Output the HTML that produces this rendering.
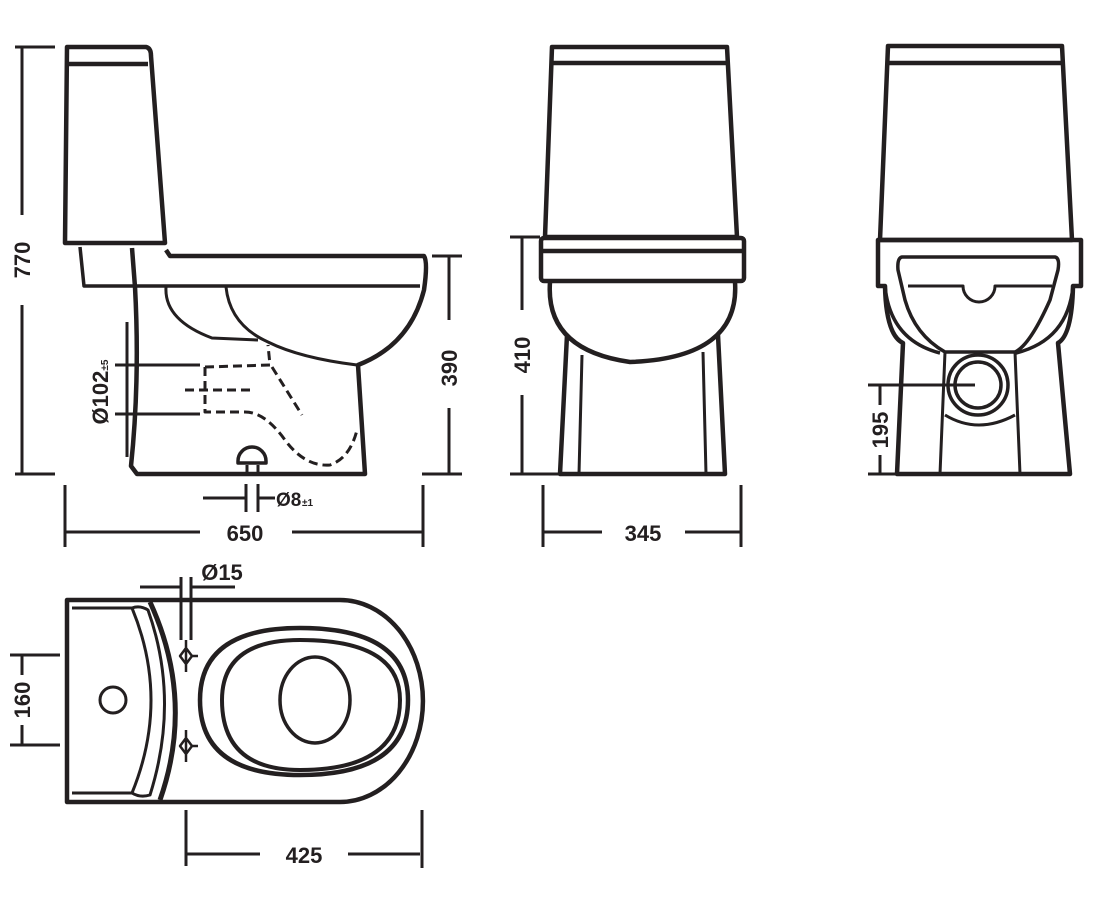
<!DOCTYPE html>
<html><head><meta charset="utf-8"><style>
html,body{margin:0;padding:0;background:#fff;}
svg{display:block}
text{font-family:"Liberation Sans",sans-serif;font-weight:bold;fill:#231f20;}
</style></head><body>
<svg width="1103" height="916" viewBox="0 0 1103 916" xmlns="http://www.w3.org/2000/svg">
<g fill="none" stroke="#231f20" stroke-width="4.5" stroke-linejoin="round">
<!-- SIDE VIEW -->
<path d="M67,47 L146,47 Q151,48 151,56 L165,243 L65,243 Z"/>
<line x1="67" y1="64" x2="148" y2="64"/>
<path d="M166,250 L170,256 L424,256 Q428,262 424,290 Q410,345 358,365 L365,474 L137,474 L131,466 Q140,380 135,287 L132,248"/>
<path d="M80,247 L84,286 L420,286" stroke-width="3.5"/>
<path d="M166,287 Q164,320 212,338 L258,340" stroke-width="3"/>
<path d="M226,287 Q230,325 268,342 Q300,358 357,365" stroke-width="3"/>
<path d="M252,447 a14,14 0 0 1 14,14 v2 h-28 v-2 a14,14 0 0 1 14,-14 Z" stroke-width="3.5"/>
<path d="M247,465 v8 M258,465 v8" stroke-width="3"/>
<g stroke-width="3" stroke-dasharray="9,5">
<path d="M205,367 L270,365 L268,345"/>
<path d="M205,367 L205,412 L245,412 Q265,412 285,440 Q305,467 330,465 Q350,458 357,430"/>
<path d="M272,367 L302,415"/>
<path d="M185,390 L253,390"/>
</g>
<g stroke-width="3">
<path d="M15,47 H55 M22,47 V215 M22,305 V474 M15,474 H55"/>
<path d="M432,256 H462 M449,256 V320 M449,408 V474 M422,474 H462"/>
<path d="M65,485 V547 M423,485 V547 M65,532 H200 M292,532 H423"/>
<path d="M246,484 V512 M258,484 V512 M203,498 H246 M258,498 H275"/>
<path d="M115,365 H200 M115,414 H200 M127,322 V457"/>
</g>
<!-- FRONT VIEW -->
<path d="M552,47 L727,47 L737,237 L545,237 Z"/>
<line x1="553" y1="63" x2="728" y2="63"/>
<rect x="541" y="238" width="203" height="43" rx="3"/>
<line x1="543" y1="251" x2="742" y2="251"/>
<path d="M550,282 Q545,350 630,362 Q740,358 735,282"/>
<path d="M567,335 L560,474 L725,474 L718,335"/>
<path d="M582,355 L579,474 M703,352 L706,474" stroke-width="3"/>
<g stroke-width="3">
<path d="M510,237 H540 M522,237 V310 M522,395 V474 M510,474 H560"/>
<path d="M543,485 V547 M741,485 V547 M543,532 H602 M685,532 H741"/>
</g>
<!-- BACK VIEW -->
<path d="M888,46 L1062,46 L1072,240 L880,240 Z"/>
<line x1="889" y1="63" x2="1062" y2="63"/>
<path d="M878,240 H1081 V286 H1073 Q1072,335 1058,343 L1070,474 H897 L903,343 Q886,335 885,286 H878 Z"/>
<path d="M885,286 Q890,340 940,353 M1073,286 Q1068,340 1016,353" stroke-width="3.5"/>
<path d="M902,257 H1055 Q1060,258 1058,270 L1050,300 Q1030,345 1015,352 H945 Q915,335 905,300 L898,270 Q897,258 902,257 Z" stroke-width="3.5"/>
<path d="M908,286 H963 A16,16 0 0 0 995,286 H1052" stroke-width="3"/>
<path d="M945,352 L940,474 M1015,352 L1020,474 M945,415 Q978,435 1015,415" stroke-width="3"/>
<circle cx="978" cy="385" r="30" stroke-width="3.5"/>
<circle cx="978" cy="385" r="23" stroke-width="3.5"/>
<g stroke-width="3">
<path d="M868,385 H975 M880,385 V405 M880,455 V474 M868,474 H897"/>
</g>
<!-- TOP VIEW -->
<path d="M67,600 H340 A83,101 0 0 1 340,802 H67 Z"/>
<path d="M72,608 H132 M72,793 H132" stroke-width="3"/>
<path d="M150,602 Q195,700 160,800" stroke-width="5"/>
<path d="M132,608 Q140,605 148,610 Q180,700 150,795 Q140,798 132,793 Q170,700 132,608 Z" stroke-width="3"/>
<path d="M200,700 Q200,628 300,628 Q408,628 408,700 Q408,775 300,775 Q200,775 200,700 Z"/>
<path d="M222,700 Q222,640 300,640 Q400,640 400,700 Q400,770 300,770 Q222,770 222,700 Z" stroke-width="4"/>
<ellipse cx="315" cy="700" rx="35" ry="43" stroke-width="3.5"/>
<circle cx="113" cy="700" r="13" stroke-width="3"/>
<g stroke-width="2.5">
<path d="M186,648 L192,656 L186,664 L180,656 Z M186,738 L192,746 L186,754 L180,746 Z M186,640 V672 M186,730 V762 M192,656 H198 M192,746 H198"/>
</g>
<g stroke-width="3">
<path d="M181,577 V640 M191,577 V640 M140,587 H181 M191,587 H235"/>
<path d="M10,655 H60 M22,655 V675 M22,725 V745 M10,745 H60"/>
<path d="M186,810 V866 M422,810 V868 M186,854 H260 M348,854 H420"/>
</g>
</g>
<g font-size="22">
<text transform="translate(30,260) rotate(-90)" text-anchor="middle">770</text>
<text transform="translate(457,368) rotate(-90)" text-anchor="middle">390</text>
<text x="245" y="541" text-anchor="middle">650</text>
<text x="276" y="506" font-size="19">Ø8</text><text x="302" y="506" font-size="10">±1</text>
<text transform="translate(108,392) rotate(-90)" text-anchor="middle" font-weight="normal">Ø102<tspan font-size="10" font-weight="bold">±5</tspan></text>
<text transform="translate(530,355) rotate(-90)" text-anchor="middle">410</text>
<text x="643" y="541" text-anchor="middle">345</text>
<text transform="translate(888,430) rotate(-90)" text-anchor="middle">195</text>
<text x="222" y="580" text-anchor="middle">Ø15</text>
<text transform="translate(30,700) rotate(-90)" text-anchor="middle">160</text>
<text x="304" y="863" text-anchor="middle">425</text>
</g>
</svg>
</body></html>
